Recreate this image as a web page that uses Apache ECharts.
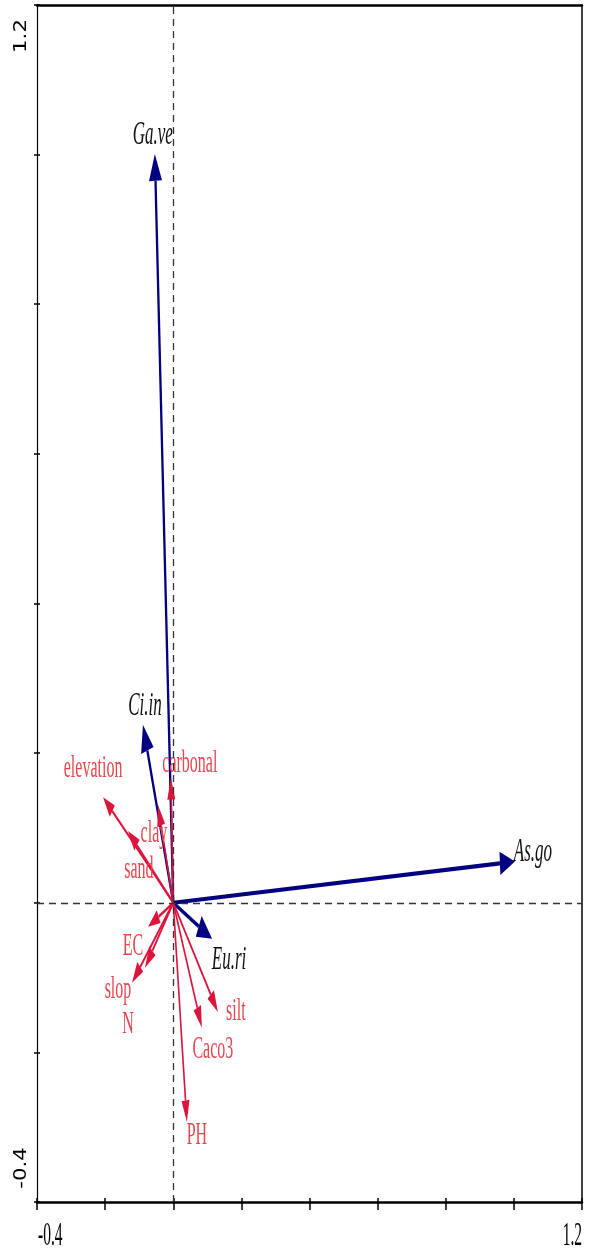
<!DOCTYPE html>
<html>
<head>
<meta charset="utf-8">
<script src="https://cdn.jsdelivr.net/npm/echarts@6/dist/echarts.min.js"></script>
<style>
  html, body { margin: 0; padding: 0; background: #fff; }
  #chart { width: 589px; height: 1253px; }
</style>
</head>
<body>
<div id="chart"></div>
<script>
// ---- data ----
const speciesNames = ['Ga.ve', 'Ci.in', 'As.go', 'Eu.ri'];
const speciesX = [-0.054, -0.089, 1.003, 0.114];
const speciesY = [1.001, 0.238, 0.055, -0.048];

const envNames = ['elevation', 'sand', 'clay', 'carbonal', 'EC', 'slop', 'N', 'silt', 'Caco3', 'PH'];
const envX = [-0.206, -0.133, -0.045, -0.007, -0.074, -0.083, -0.121, 0.131, 0.084, 0.040];
const envY = [0.141, 0.096, 0.131, 0.167, -0.032, -0.087, -0.107, -0.146, -0.167, -0.293];

const xTickValues = [-0.4, 1.2];
const xTickLabels = ['-0.4', '1.2'];
const yTickValues = [1.2, -0.4];
const yTickLabels = ['1.2', '-0.4'];

// ---- layout / style (pixels) ----
const speciesLabelOffset = { 'Ga.ve': [-2, -19], 'Ci.in': [2, -19], 'As.go': [18, -10], 'Eu.ri': [17, 21] };
const envLabelOffset = {
  'elevation': [-10, -29], 'sand': [11, 39], 'clay': [-4, 29], 'carbonal': [19, -14],
  'EC': [-15, 20], 'slop': [-27, 22], 'N': [-4, 42], 'silt': [18, 0], 'Caco3': [11, 22], 'PH': [10, 14]
};
const S = 1.8; // vertical stretch of the original picture

function makeRender(names, offsets, cfg) {
  return function (params, api) {
    const i = api.value(2);
    const o = api.coord([0, 0]);
    const p = api.coord([api.value(0), api.value(1)]);
    const dx = p[0] - o[0], dy = (p[1] - o[1]) / S;
    const L = Math.hypot(dx, dy) || 1;
    const ux = dx / L, uy = dy / L;
    const nx = -uy, ny = ux;
    const hl = Math.min(cfg.headLen, L * 0.9);
    const b = [p[0] - ux * hl, p[1] - uy * hl * S];
    const hw = cfg.lineW / 2;
    const pt = (c, k) => [c[0] + nx * k, c[1] + ny * k * S];
    const shaft = [pt(o, hw), pt(b, hw), pt(b, -hw), pt(o, -hw)];
    const head = [p, pt(b, cfg.headW), pt(b, -cfg.headW)];
    const name = names[i];
    const off = offsets[name] || [0, 0];
    return {
      type: 'group',
      children: [
        { type: 'polygon', shape: { points: shaft }, style: { fill: cfg.color } },
        { type: 'polygon', shape: { points: head }, style: { fill: cfg.color } },
        {
          type: 'text', x: p[0] + off[0], y: p[1] + off[1], scaleY: cfg.textScale,
          style: {
            text: name, fill: cfg.textColor, align: 'center', verticalAlign: 'middle',
            fontFamily: '"Liberation Serif", "DejaVu Serif", serif',
            fontSize: cfg.fontSize, fontStyle: cfg.fontStyle
          }
        }
      ]
    };
  };
}

const chart = echarts.init(document.getElementById('chart'), null, { renderer: 'canvas' });

const baseAxis = { min: -0.4, max: 1.2, interval: 0.2, splitLine: { show: false }, axisLabel: { show: false } };

chart.setOption({
  animation: false,
  backgroundColor: '#fff',
  grid: { left: 37, right: 7, top: 5, bottom: 51 },
  xAxis: [
    Object.assign({}, baseAxis, { type: 'value', position: 'bottom',
      axisLine: { show: true, onZero: false, lineStyle: { color: '#000', width: 2.5 } },
      axisTick: { show: true, inside: false, length: 8, lineStyle: { color: '#000', width: 1.5 } } }),
    Object.assign({}, baseAxis, { type: 'value', position: 'bottom',
      axisLine: { show: false, onZero: false },
      axisTick: { show: true, inside: true, length: 4, lineStyle: { color: '#000', width: 1.5 } } }),
    Object.assign({}, baseAxis, { type: 'value', position: 'top',
      axisLine: { show: true, onZero: false, lineStyle: { color: '#000', width: 2.5 } },
      axisTick: { show: false } })
  ],
  yAxis: [
    Object.assign({}, baseAxis, { type: 'value', position: 'left',
      axisLine: { show: true, onZero: false, lineStyle: { color: '#000', width: 1.2 } },
      axisTick: { show: true, inside: false, length: 3, lineStyle: { color: '#000', width: 1.5 } } }),
    Object.assign({}, baseAxis, { type: 'value', position: 'left',
      axisLine: { show: false, onZero: false },
      axisTick: { show: true, inside: true, length: 3, lineStyle: { color: '#000', width: 1.5 } } }),
    Object.assign({}, baseAxis, { type: 'value', position: 'right',
      axisLine: { show: true, onZero: false, lineStyle: { color: '#000', width: 1.5 } },
      axisTick: { show: false } })
  ],
  series: [
    {
      type: 'line', data: [[0, 0]], showSymbol: false, symbolSize: 0, z: 1,
      lineStyle: { width: 0 },
      markLine: {
        silent: true, symbol: ['none', 'none'], label: { show: false },
        lineStyle: { type: [7, 5], color: '#333', width: 1.3 },
        data: [{ xAxis: 0 }, { yAxis: 0 }]
      }
    },
    {
      type: 'custom', z: 3, clip: false,
      data: speciesX.map((x, i) => [x, speciesY[i], i]),
      renderItem: makeRender(speciesNames, speciesLabelOffset, {
        color: '#000080', textColor: '#111', lineW: 2.3, headLen: 15, headW: 6.5,
        fontSize: 17, fontStyle: 'italic', textScale: 2.0
      })
    },
    {
      type: 'custom', z: 4, clip: false,
      data: envX.map((x, i) => [x, envY[i], i]),
      renderItem: makeRender(envNames, envLabelOffset, {
        color: '#dc143c', textColor: '#e8454f', lineW: 1.6, headLen: 12, headW: 4,
        fontSize: 16, fontStyle: 'normal', textScale: 2.0
      })
    }
  ]
});

// tick labels
const graphics = [];
xTickValues.forEach((v, i) => {
  const px = chart.convertToPixel({ xAxisIndex: 0 }, v);
  graphics.push({
    type: 'text', x: px + (i === 0 ? 1 : 0), y: 1236, scaleY: 2.2,
    style: { text: xTickLabels[i], align: i === 0 ? 'left' : 'right', verticalAlign: 'middle',
      fontFamily: '"Liberation Serif", serif', fontSize: 15.5, fill: '#000' }
  });
});
yTickValues.forEach((v, i) => {
  const py = chart.convertToPixel({ yAxisIndex: 0 }, v);
  graphics.push({
    type: 'text', x: 22, y: py + (i === 0 ? 31 : -34), rotation: Math.PI / 2, scaleX: 1.25,
    style: { text: yTickLabels[i], align: 'center', verticalAlign: 'middle',
      fontFamily: '"DejaVu Sans", sans-serif', fontSize: 17, fill: '#000' }
  });
});
chart.setOption({ graphic: graphics });
</script>
</body>
</html>
